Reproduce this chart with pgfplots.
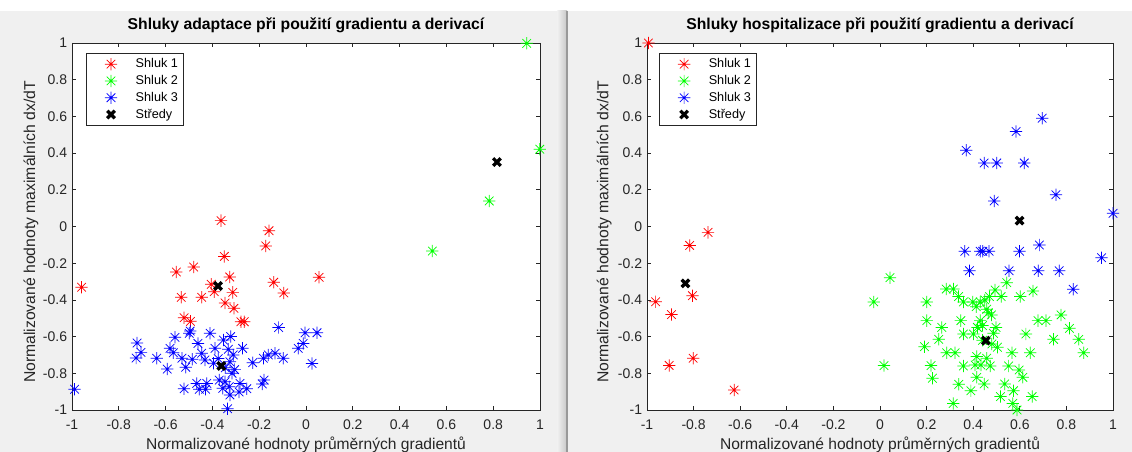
\documentclass[border=0pt]{standalone}
\usepackage{pgfplots}
\pgfplotsset{compat=1.18}
\usepackage{fontspec}
\setmainfont{Liberation Sans}
\definecolor{axgray}{HTML}{262626}
\definecolor{figbg}{HTML}{F0F0F0}
\definecolor{mred}{rgb}{1,0,0}
\definecolor{mgreen}{rgb}{0,1,0}
\definecolor{mblue}{rgb}{0,0,1}
\pgfdeclareplotmark{mstar}{%
  \pgfpathmoveto{\pgfqpoint{-\pgfplotmarksize}{0pt}}%
  \pgfpathlineto{\pgfqpoint{\pgfplotmarksize}{0pt}}%
  \pgfpathmoveto{\pgfqpoint{0pt}{-\pgfplotmarksize}}%
  \pgfpathlineto{\pgfqpoint{0pt}{\pgfplotmarksize}}%
  \pgfpathmoveto{\pgfqpoint{-0.7\pgfplotmarksize}{-0.7\pgfplotmarksize}}%
  \pgfpathlineto{\pgfqpoint{0.7\pgfplotmarksize}{0.7\pgfplotmarksize}}%
  \pgfpathmoveto{\pgfqpoint{-0.7\pgfplotmarksize}{0.7\pgfplotmarksize}}%
  \pgfpathlineto{\pgfqpoint{0.7\pgfplotmarksize}{-0.7\pgfplotmarksize}}%
  \pgfusepathqstroke}
\pgfplotsset{
  mlab/.style={
    scale only axis, width=351pt, height=275.25pt,
    xmin=-1, xmax=1, ymin=-1, ymax=1,
    axis background/.style={fill=white},
    axis line style={axgray, line width=0.5pt},
    tick style={axgray, line width=0.5pt},
    major tick length=3pt,
    tick align=inside, xtick pos=both, ytick pos=both,
    xtick={-1,-0.8,-0.6,-0.4,-0.2,0,0.2,0.4,0.6,0.8,1},
    ytick={-1,-0.8,-0.6,-0.4,-0.2,0,0.2,0.4,0.6,0.8,1},
    xticklabels={-1,-0.8,-0.6,-0.4,-0.2,0,0.2,0.4,0.6,0.8,1},
    yticklabels={-1,-0.8,-0.6,-0.4,-0.2,0,0.2,0.4,0.6,0.8,1},
    ticklabel style={font=\fontsize{10.5pt}{12pt}\selectfont, text=axgray},
    xticklabel style={anchor=base, yshift=-15pt, inner sep=0pt},
    yticklabel style={anchor=east, xshift=-3.5pt, inner sep=0pt},
    title style={at={(axis description cs:0.5,1)}, anchor=base, yshift=4.2pt, font=\bfseries\fontsize{11.8pt}{13pt}\selectfont, inner sep=0pt},
    xlabel style={at={(axis description cs:0.5,0)}, anchor=base, yshift=-29.5pt, font=\fontsize{11.7pt}{13pt}\selectfont, text=axgray, inner sep=0pt},
    ylabel style={font=\fontsize{11.8pt}{13pt}\selectfont, text=axgray, inner sep=0pt, anchor=base},
    xlabel={Normalizované hodnoty průměrných gradientů},
    ylabel={Normalizované hodnoty maximálních dx/dT},
    legend cell align=left,
    legend style={font=\fontsize{9.5pt}{11pt}\selectfont, draw=axgray, line width=0.5pt, fill=white,
      inner xsep=2pt, inner ysep=2pt, row sep=0.2pt,
      /tikz/every even column/.append style={column sep=0pt}},
    legend image code/.code={\draw[mark repeat=2,mark phase=2,##1,draw=none] plot coordinates {(0pt,0pt)(16.5pt,0pt)(33pt,0pt)};},
    clip=false,
  },
  sred/.style={draw=none, mark=mstar, mark size=4.6pt, mark options={draw=mred, line width=0.55pt, solid}},
  sgreen/.style={draw=none, mark=mstar, mark size=4.6pt, mark options={draw=mgreen, line width=0.55pt, solid}},
  sblue/.style={draw=none, mark=mstar, mark size=4.6pt, mark options={draw=mblue, line width=0.55pt, solid}},
  scent/.style={draw=none, mark=x, mark size=4pt, mark options={draw=black, line width=2.5pt, solid}},
}
\begin{document}
\begin{tikzpicture}
\useasboundingbox (0,0) rectangle (849pt,339pt);
\fill[figbg] (0,0) rectangle (849pt,339pt);
\fill[white] (0,330.75pt) rectangle (849pt,339pt);
\shade[left color=figbg, right color=black!22] (418pt,0) rectangle (425.25pt,330.75pt);
\draw[black!40, line width=1.2pt] (425.25pt,0) -- (425.25pt,330.75pt);

\begin{axis}[mlab, at={(54pt,31.5pt)}, anchor=south west,
  title={Shluky adaptace při použití gradientu a derivací},
  ylabel style={at={(axis description cs:-0.079,0.485)}},
  legend style={at={(axis description cs:0.030,0.973)}, anchor=north west}]
\addplot[sred] coordinates {
(-0.959,-0.331) (-0.363,0.032) (-0.158,-0.023) (-0.172,-0.106) (-0.349,-0.163)
(-0.554,-0.248) (-0.480,-0.221) (-0.326,-0.275) (-0.138,-0.304) (0.056,-0.277)
(-0.095,-0.362) (-0.313,-0.359) (-0.392,-0.355) (-0.533,-0.386) (-0.446,-0.386)
(-0.346,-0.417) (-0.308,-0.446) (-0.521,-0.497) (-0.494,-0.517) (-0.278,-0.519)
(-0.264,-0.519) (-0.405,-0.315)
};
\addlegendentry{Shluk 1}
\addplot[sgreen] coordinates {
(0.943,0.998) (0.999,0.421) (0.783,0.139) (0.540,-0.134)
};
\addlegendentry{Shluk 2}
\addplot[sblue] coordinates {
(-0.989,-0.887) (-0.722,-0.635) (-0.726,-0.717) (-0.705,-0.686) (-0.638,-0.718)
(-0.593,-0.777) (-0.560,-0.604) (-0.581,-0.664) (-0.567,-0.688) (-0.499,-0.582)
(-0.495,-0.570) (-0.521,-0.884) (-0.530,-0.718) (-0.514,-0.767) (-0.486,-0.724)
(-0.462,-0.637) (-0.467,-0.855) (-0.456,-0.887) (-0.424,-0.855) (-0.429,-0.887)
(-0.432,-0.727) (-0.446,-0.691) (-0.410,-0.582) (-0.389,-0.664) (-0.353,-0.619)
(-0.322,-0.600) (-0.332,-0.669) (-0.271,-0.664) (-0.311,-0.700) (-0.325,-0.737)
(-0.316,-0.800) (-0.371,-0.837) (-0.346,-0.846) (-0.356,-0.882) (-0.328,-0.873)
(-0.325,-0.918) (-0.335,-0.993) (-0.282,-0.855) (-0.286,-0.902) (-0.253,-0.884)
(-0.228,-0.742) (-0.182,-0.718) (-0.179,-0.837) (-0.187,-0.858) (-0.161,-0.700)
(-0.132,-0.691) (-0.097,-0.718) (-0.117,-0.551) (-0.033,-0.664) (-0.012,-0.637)
(-0.004,-0.579) (0.047,-0.579) (0.026,-0.746) (-0.375,-0.720) (-0.395,-0.745)
(-0.345,-0.770) (-0.305,-0.780)
};
\addlegendentry{Shluk 3}
\addplot[scent] coordinates {(-0.376,-0.324) (0.816,0.351) (-0.362,-0.760)};
\addlegendentry{Středy}
\end{axis}

\begin{axis}[mlab, at={(485.25pt,31.5pt)}, anchor=south west, width=349.5pt,
  title={Shluky hospitalizace při použití gradientu a derivací},
  ylabel style={at={(axis description cs:-0.083,0.485)}},
  legend style={at={(axis description cs:0.026,0.973)}, anchor=north west}]
\addplot[sred] coordinates {
(-0.994,1.0) (-0.738,-0.032) (-0.817,-0.103) (-0.805,-0.377) (-0.963,-0.410)
(-0.895,-0.480) (-0.802,-0.718) (-0.905,-0.757) (-0.626,-0.891)
};
\addlegendentry{Shluk 1}
\addplot[sgreen] coordinates {
(0.043,-0.279) (-0.027,-0.411) (0.017,-0.758) (0.201,-0.411) (0.201,-0.513)
(0.191,-0.655) (0.219,-0.758) (0.225,-0.827) (0.265,-0.550) (0.252,-0.615)
(0.286,-0.688) (0.322,-0.688) (0.284,-0.341) (0.315,-0.341) (0.337,-0.382)
(0.358,-0.411) (0.347,-0.513) (0.358,-0.586) (0.358,-0.760) (0.338,-0.860)
(0.314,-0.964) (0.390,-0.895) (0.398,-0.411) (0.413,-0.437) (0.430,-0.411)
(0.458,-0.451) (0.418,-0.550) (0.430,-0.513) (0.401,-0.586) (0.470,-0.382)
(0.494,-0.346) (0.520,-0.382) (0.544,-0.306) (0.478,-0.482) (0.498,-0.550)
(0.487,-0.582) (0.504,-0.658) (0.415,-0.709) (0.408,-0.755) (0.433,-0.755)
(0.458,-0.718) (0.473,-0.760) (0.415,-0.822) (0.447,-0.858) (0.566,-0.688)
(0.552,-0.760) (0.597,-0.782) (0.613,-0.822) (0.535,-0.858) (0.573,-0.895)
(0.517,-0.927) (0.570,-0.964) (0.588,-1.000) (0.653,-0.927) (0.645,-0.688)
(0.626,-0.586) (0.602,-0.382) (0.657,-0.351) (0.678,-0.513) (0.712,-0.513)
(0.777,-0.482) (0.745,-0.615) (0.813,-0.555) (0.853,-0.615) (0.874,-0.688)
(0.440,-0.620) (0.465,-0.470) (0.450,-0.400) (0.480,-0.640) (0.440,-0.540)
};
\addlegendentry{Shluk 2}
\addplot[sblue] coordinates {
(0.370,0.415) (0.584,0.518) (0.696,0.590) (0.447,0.346) (0.501,0.346)
(0.619,0.346) (0.490,0.139) (0.755,0.173) (1.000,0.072) (0.364,-0.135)
(0.430,-0.135) (0.441,-0.135) (0.468,-0.135) (0.599,-0.135) (0.684,-0.101)
(0.951,-0.170) (0.384,-0.241) (0.554,-0.241) (0.679,-0.241) (0.769,-0.241)
(0.829,-0.342)
};
\addlegendentry{Shluk 3}
\addplot[scent] coordinates {(-0.835,-0.310) (0.454,-0.622) (0.599,0.032)};
\addlegendentry{Středy}
\end{axis}
\end{tikzpicture}
\end{document}
